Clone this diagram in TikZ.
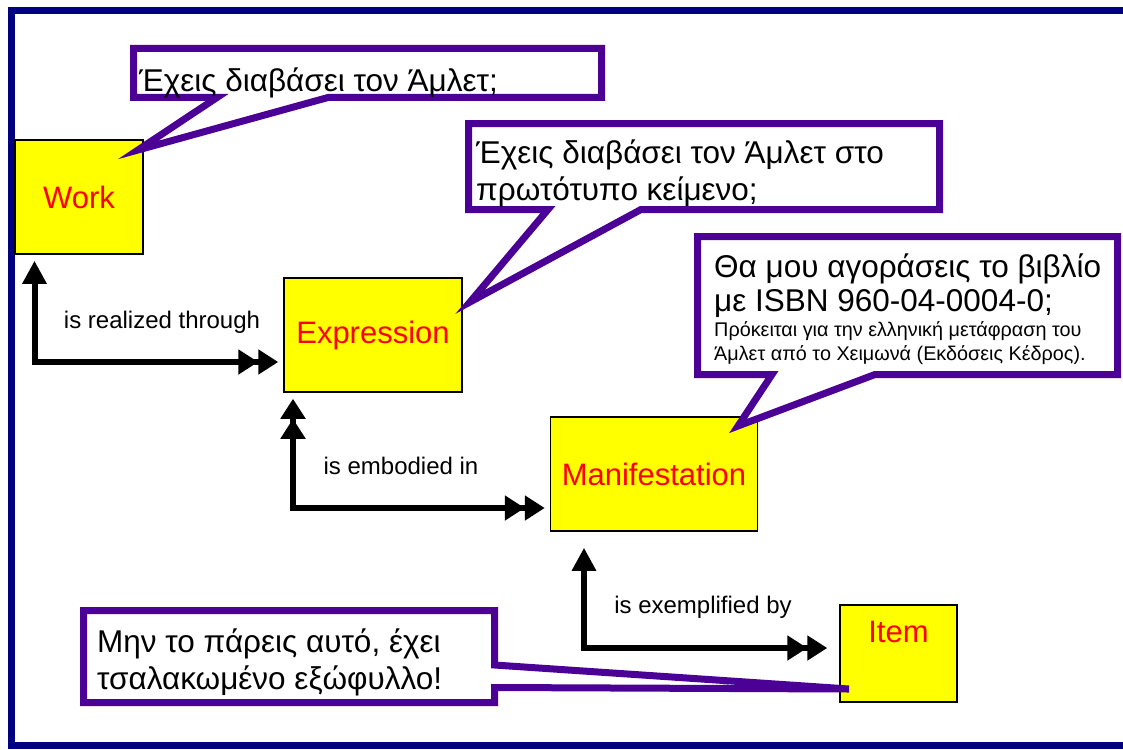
\documentclass[tikz,border=0pt]{standalone}
\usepackage{fontspec}
\setmainfont{Liberation Sans}
\usetikzlibrary{arrows.meta}
\definecolor{framenavy}{RGB}{0,0,128}
\definecolor{bubblepurple}{RGB}{75,0,150}
\definecolor{boxyellow}{RGB}{255,255,0}
\definecolor{labelred}{RGB}{255,0,0}
\tikzset{
  onehead/.tip={Triangle[length=23pt,width=23pt]},
  twohead/.tip={Triangle[length=20pt,width=24pt] Triangle[length=20pt,width=24pt]},
}
\begin{document}
\begin{tikzpicture}[x=1pt,y=-1pt,
  entity/.style={draw=black, line width=1.5pt, fill=boxyellow, text=labelred,
    font=\fontsize{31}{37}\selectfont, inner sep=0pt},
  bubble/.style={draw=bubblepurple, line width=7pt, fill=white, line join=miter},
  bubbletext/.style={anchor=base west, inner sep=0pt, font=\fontsize{31.5}{38}\selectfont},
  bubblesmall/.style={anchor=base west, inner sep=0pt, font=\fontsize{19.8}{24}\selectfont},
  rel/.style={draw=black, line width=6pt, line join=miter},
  relname/.style={inner sep=0pt, font=\fontsize{24}{29}\selectfont},
]
\useasboundingbox (0,0) rectangle (1123,749);

% frame, open on the right
\draw[framenavy, line width=7pt] (1135,11) -- (11.5,11) -- (11.5,745) -- (1135,745);

% FRBR entities
\node[entity, minimum width=128pt, minimum height=114pt] (Work) at (79,197) {Work};
\node[entity, minimum width=178pt, minimum height=114pt] (Expression) at (373,335) {Expression};
\node[entity, minimum width=207pt, minimum height=114pt] (Manifestation) at (654,474) {Manifestation};
\node[entity, minimum width=117pt, minimum height=97pt, text height=23pt, text depth=46pt] (Item) at (898.5,653.5) {Item};

% relationships
\coordinate (r1) at (34.5,362);
\coordinate (r2) at (293,508);
\coordinate (r3) at (584,648);
\draw[rel, onehead-twohead, shorten <=6pt, shorten >=5pt]
  (Work.south -| r1) -- (r1) -- (Expression.west |- r1);
\draw[rel, twohead-twohead, shorten <=6pt, shorten >=5pt]
  (Expression.south -| r2) -- (r2) -- (Manifestation.west |- r2);
\draw[rel, onehead-twohead, shorten <=16pt, shorten >=12pt]
  (Manifestation.south -| r3) -- (r3) -- (Item.west |- r3);

\node[relname] (lab1) at (162,322) {is realized through};
\node[relname] (lab2) at (401,466) {is embodied in};
\node[relname] (lab3) at (703,607) {is exemplified by};

% speech bubbles
\coordinate (t1) at (138,150);
\coordinate (t2) at (470,302);
\coordinate (t3) at (738,426);
\coordinate (t4) at (849,689);
\draw[bubble] (133.5,48.5) -- (601.5,48.5) -- (601.5,97.5) -- (328,97.5) -- (t1)
  -- (217,97.5) -- (133.5,97.5) -- cycle;
\draw[bubble] (468.5,123.5) -- (939.5,123.5) -- (939.5,209.5) -- (641,209.5) -- (t2)
  -- (548,209.5) -- (468.5,209.5) -- cycle;
\draw[bubble] (697.5,236.5) -- (1117.5,236.5) -- (1117.5,374.5) -- (875,374.5) -- (t3)
  -- (772,374.5) -- (697.5,374.5) -- cycle;
\draw[bubble] (83.5,610.5) -- (494.5,610.5) -- (494.5,665) -- (t4)
  -- (494.5,687.5) -- (494.5,702.5) -- (83.5,702.5) -- cycle;

\node[bubbletext] (c1line1) at (139,92) {Έχεις διαβάσει τον Άμλετ;};
\node[bubbletext] (c2line1) at (476,163) {Έχεις διαβάσει τον Άμλετ στο};
\node[bubbletext] (c2line2) at (476,200) {πρωτότυπο κείμενο;};
\node[bubbletext] (c3line1) at (714,277) {Θα μου αγοράσεις το βιβλίο};
\node[bubbletext] (c3line2) at (714,311) {με ISBN 960-04-0004-0;};
\node[bubblesmall] (c3line3) at (714,336) {Πρόκειται για την ελληνική μετάφραση του};
\node[bubblesmall] (c3line4) at (714,360) {Άμλετ από το Χειμωνά (Εκδόσεις Κέδρος).};
\node[bubbletext] (c4line1) at (97,652) {Μην το πάρεις αυτό, έχει};
\node[bubbletext] (c4line2) at (97,689) {τσαλακωμένο εξώφυλλο!};
\end{tikzpicture}
\end{document}
